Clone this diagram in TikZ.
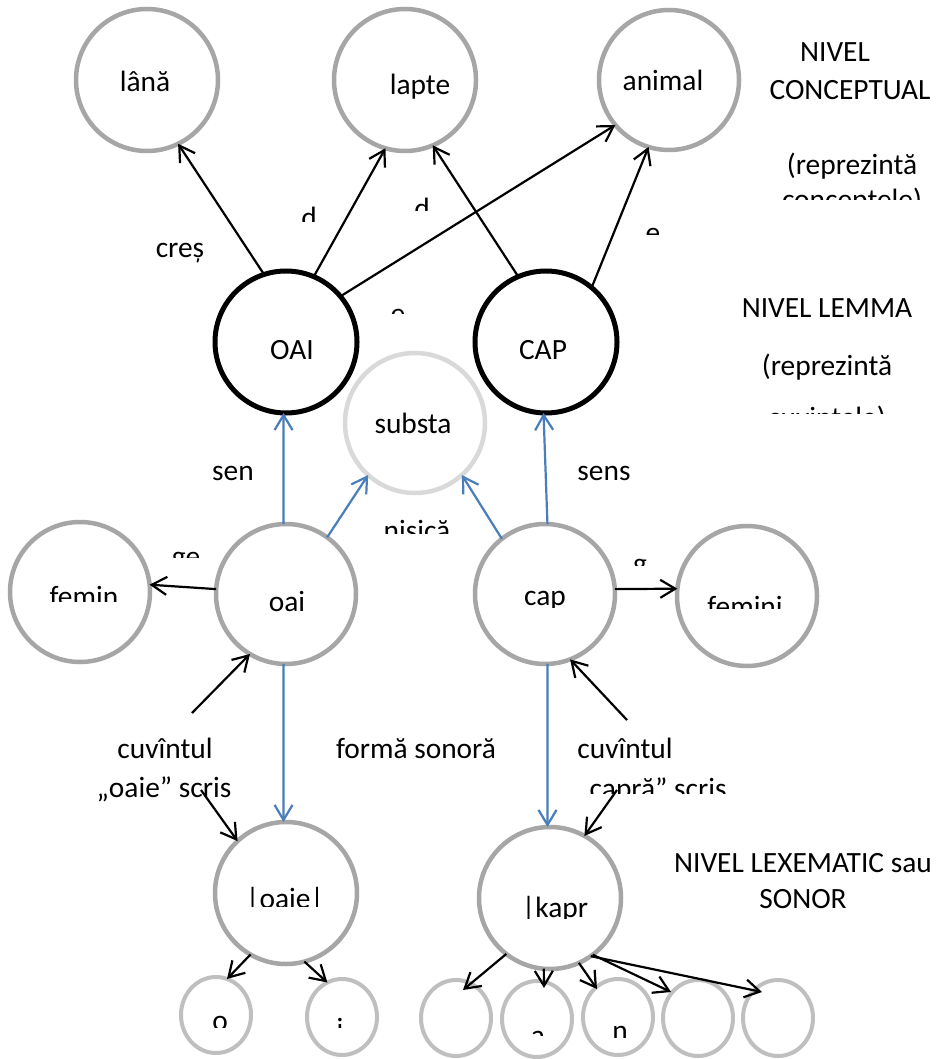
\documentclass[tikz,border=0pt]{standalone}
\usepackage{fontspec}
\setmainfont{Carlito}
\usetikzlibrary{arrows.meta,calc,shapes.geometric}
\definecolor{cgray}{HTML}{A6A6A6}
\definecolor{clight}{HTML}{D9D9D9}
\definecolor{cbot}{HTML}{BFBFBF}
\definecolor{cblue}{HTML}{4A7EBB}
\newcommand{\lblfont}{\fontsize{29.4}{35}\selectfont}
\begin{document}
\begin{tikzpicture}[x=1pt,y=-1pt,
  ring/.style={circle,draw=cgray,line width=4.5pt,inner sep=0pt,outer sep=0pt,minimum size=#1},
  lemma/.style={circle,draw=black,line width=5pt,inner sep=0pt,outer sep=0pt,minimum size=#1},
  phon/.style={ellipse,draw=cbot,line width=4pt,inner sep=0pt,outer sep=0pt,minimum width=70pt,minimum height=76pt},
  txt/.style={font=\lblfont,inner sep=0pt,anchor=base},
  arr/.style={line width=2.2pt,-{Straight Barb[length=15pt,width=18pt]}},
  barr/.style={arr,draw=cblue}]
\useasboundingbox (0,0) rectangle (939,1059);
\fill[white] (0,0) rectangle (939,1059);

% ---- circles ----
\node[ring=142pt] (lana) at (147,80) {};
\node[ring=142pt] (lapte) at (405,80) {};
\node[ring=140pt] (animal) at (669,80) {};
\node[lemma=142pt] (OAI) at (286,342) {};
\node[lemma=142pt] (CAP) at (546,342) {};
\node[ring=140pt,draw=clight] (subst) at (415,423) {};
\node[ring=140pt] (femin) at (80,592) {};
\node[ring=140pt] (oai) at (286,594) {};
\node[ring=140pt] (cap) at (545,594) {};
\node[ring=140pt] (femini) at (747,596) {};
\node[ring=142pt] (oaie) at (286,893) {};
\node[ring=142pt] (kapr) at (550,898) {};
\node[phon] (pho) at (216,1015) {};
\node[phon] (phi) at (342,1017) {};
\node[phon] (ph3) at (456,1018) {};
\node[phon] (pha) at (537,1019) {};
\node[phon] (phn) at (618,1017) {};
\node[phon] (ph6) at (698,1018) {};
\node[phon] (ph7) at (778,1018) {};

% ---- connectors ----
\draw[arr] (OAI.108) -- (lana.-64);
\draw[arr] (OAI.67) -- (lapte.-106);
\draw[arr] (CAP.113) -- (lapte.-67);
\draw[arr] (OAI.40) -- (animal.-140);
\draw[arr] (CAP.50) -- (animal.-107);
\draw[barr] (oai.92) -- (OAI.-92);
\draw[barr] (oai.54) -- (subst.-132);
\draw[barr] (cap.128) -- (subst.-48);
\draw[barr] (cap.88) -- (CAP.-92);
\draw[arr] (oai.176) -- (femin.6);
\draw[arr] (cap.4) -- (femini.174);
\draw[barr] (oai.-92) -- (oaie.92);
\draw[barr] (cap.-88) -- (kapr.92);
\coordinate (w1) at (192,713);
\coordinate (w2) at (627,720);
\coordinate (w3) at (201,790);
\coordinate (w4) at (617,790);
\draw[arr] (w1) -- (oai.-121);
\draw[arr] (w2) -- (cap.-69);
\draw[arr] (w3) -- (oaie.133);
\draw[arr] (w4) -- (kapr.61);
\draw[arr] (oaie.-120) -- (pho.73);
\draw[arr] (oaie.-75) -- (phi.113);
\draw[arr] (kapr.-128) -- ($(ph3)+(7,-28)$);
\draw[arr] (kapr.-95) -- ($(pha)+(7,-31)$);
\draw[arr] (kapr.-66) -- ($(phn)+(-21,-28)$);
\draw[arr] (kapr.-53) -- ($(ph6)+(-27,-26)$);
\draw[arr] (kapr.-55) -- ($(ph7)+(-16,-26)$);

% ---- texts ----
\node[txt] (tlana) at (145,92) {lână};
\node[txt] (tlapte) at (420,95) {lapte};
\node[txt] (tanimal) at (663,91) {animal};
\node[txt] (tniv1) at (835,62) {NIVEL};
\node[txt] (tconc) at (850,100) {CONCEPTUAL};
\node[txt] (trep1) at (852,175) {(reprezintă};
\begin{scope}
  \clip (750,185) rectangle (939,200);
  \node[txt] (tconc2) at (852,209.5) {conceptele)};
\end{scope}
\node[txt] (tniv2) at (827,317) {NIVEL LEMMA};
\node[txt] (trep2) at (827,375) {(reprezintă};
\begin{scope}
  \clip (740,395) rectangle (939,413);
  \node[txt] (tlem2) at (827,427) {cuvintele)};
\end{scope}
\node[txt] (tOAI) at (292,359) {OAI};
\node[txt] (tCAP) at (543,359) {CAP};
\node[txt] (tcres) at (180,258) {creș};
\begin{scope}
  \clip (280,190) rectangle (340,222);
  \node[txt] (td1) at (309,228) {d};
\end{scope}
\begin{scope}
  \clip (395,185) rectangle (450,211);
  \node[txt] (td2) at (422,219) {d};
\end{scope}
\begin{scope}
  \clip (630,220) rectangle (680,235);
  \node[txt] (te1) at (653,243) {e};
\end{scope}
\begin{scope}
  \clip (375,300) rectangle (420,313);
  \node[txt] (te2) at (398,323) {e};
\end{scope}
\node[txt] (tsubst) at (413,433) {substa};
\node[txt] (tsen) at (233,480) {sen};
\node[txt] (tsens) at (604,480) {sens};
\begin{scope}
  \clip (360,515) rectangle (475,533);
  \node[txt] (tnis) at (417,540) {nisică};
\end{scope}
\begin{scope}
  \clip (160,545) rectangle (215,557);
  \node[txt] (tge) at (186,566) {ge};
\end{scope}
\begin{scope}
  \clip (625,550) rectangle (655,565);
  \node[txt] (tg) at (640,573) {g};
\end{scope}
\begin{scope}
  \clip (30,575) rectangle (140,601);
  \node[txt] (tfemin) at (84,606.5) {femin};
\end{scope}
\node[txt] (toai) at (287,611.5) {oai};
\begin{scope}
  \clip (510,580) rectangle (580,607);
  \node[txt] (tcap) at (545,605.5) {cap};
\end{scope}
\begin{scope}
  \clip (690,585) rectangle (800,608);
  \node[txt] (tfemini) at (745,616.5) {femini};
\end{scope}
\node[txt] (tcuv1) at (165,758) {cuvîntul};
\node[txt] (tscris1) at (164,797) {„oaie” scris};
\node[txt] (tforma) at (416,758) {formă sonoră};
\node[txt] (tcuv2) at (625,758) {cuvîntul};
\begin{scope}
  \clip (560,770) rectangle (760,793);
  \node[txt] (tscris2) at (652,798.5) {„capră” scris};
\end{scope}
\begin{scope}
  \clip (230,875) rectangle (345,906);
  \node[txt] (toaie) at (285,908.5) {|oaie|};
\end{scope}
\begin{scope}
  \clip (500,885) rectangle (610,918);
  \node[txt] (tkapr) at (555,917) {|kapr};
\end{scope}
\node[txt] (tniv3) at (803,872) {NIVEL LEXEMATIC sau};
\node[txt] (tsonor) at (803,908) {SONOR};
\begin{scope}
  \clip (200,1005) rectangle (240,1027);
  \node[txt] (tpo) at (220,1030) {o};
\end{scope}
\begin{scope}
  \clip (325,1005) rectangle (355,1027);
  \node[txt] (tpi) at (340,1038.7) {i};
\end{scope}
\begin{scope}
  \clip (520,1020) rectangle (556,1035);
  \node[txt] (tpa) at (538,1045.4) {a};
\end{scope}
\begin{scope}
  \clip (600,1015) rectangle (640,1037);
  \node[txt] (tpn) at (620,1040.4) {n};
\end{scope}
\end{tikzpicture}
\end{document}
